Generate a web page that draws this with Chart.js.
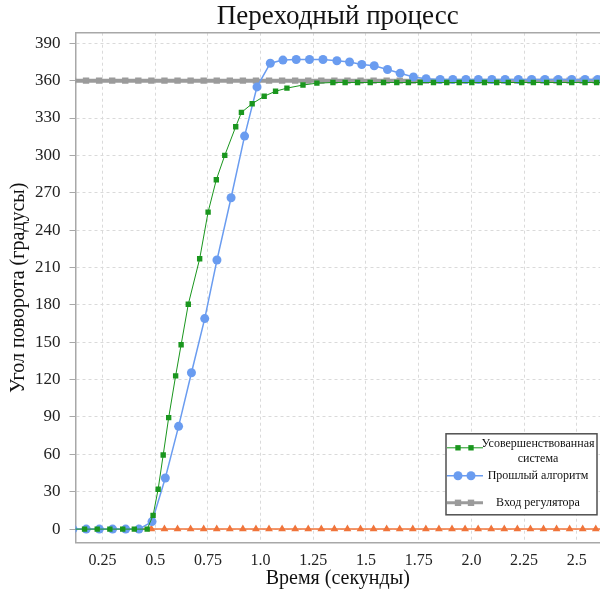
<!DOCTYPE html>
<html>
<head>
<meta charset="utf-8">
<script src="https://cdn.jsdelivr.net/npm/chart.js@4/dist/chart.umd.min.js"></script>
<style>
  html, body { margin: 0; padding: 0; background: #fff; overflow: hidden; }
</style>
</head>
<body>
<canvas id="chart" width="600" height="592"></canvas>
<script>
"use strict";

const serif = "'Liberation Serif', 'Times New Roman', serif";

// time, s
const greenTime = [0.105, 0.165, 0.225, 0.285, 0.346, 0.401, 0.462, 0.49, 0.514, 0.538,
  0.564, 0.597, 0.623, 0.657, 0.711, 0.751, 0.79, 0.83, 0.882, 0.909, 0.96, 1.017, 1.071,
  1.125, 1.201, 1.267, 1.343, 1.401, 1.46, 1.52, 1.583, 1.646, 1.701, 1.757, 1.82, 1.883,
  1.942, 2.002, 2.062, 2.12, 2.175, 2.239, 2.294, 2.357, 2.417, 2.476, 2.539, 2.594, 2.654];
const greenAngle = [0, 0, 0, 0, 0, 0, 0, 11, 32, 59.5,
  89.5, 123, 148, 180.5, 217, 254.5, 280.5, 300, 323, 334.5, 341.5, 347.5, 351.5,
  354, 356.5, 358, 358.5, 358.5, 358.5, 358.5, 358.5, 358.5, 358.5, 358.5, 358.5, 358.5,
  358.5, 358.5, 358.5, 358.5, 358.5, 358.5, 358.5, 358.5, 358.5, 358.5, 358.5, 358.5, 358.5];

const blueTime = [0.11, 0.173, 0.235, 0.298, 0.36, 0.423, 0.485, 0.548, 0.611, 0.672,
  0.735, 0.793, 0.86, 0.924, 0.983, 1.046, 1.106, 1.169, 1.232, 1.296, 1.362, 1.422,
  1.48, 1.539, 1.602, 1.662, 1.725, 1.785, 1.852, 1.912, 1.974, 2.033, 2.097, 2.16,
  2.223, 2.286, 2.349, 2.412, 2.476, 2.539, 2.599, 2.662];
const blueAngle = [0, 0, 0, 0, 0, 0, 6, 41, 82.5, 125.5,
  169, 216, 266, 315.5, 355, 374, 376.5, 377, 377, 377, 376, 375,
  373, 372, 369, 366, 363, 361.5, 361, 361, 361, 361, 361, 361,
  361, 361, 361, 361, 361, 361, 361, 361];

const inputTime = [0.11, 0.172, 0.234, 0.296, 0.358, 0.42, 0.482, 0.544, 0.606, 0.668,
  0.73, 0.792, 0.854, 0.916, 0.978, 1.04, 1.102, 1.164, 1.226, 1.288, 1.35, 1.412,
  1.474, 1.536, 1.598, 1.66, 1.722, 1.784, 1.846, 1.908, 1.97, 2.032, 2.094, 2.156,
  2.218, 2.28, 2.342, 2.404, 2.466, 2.528, 2.59, 2.652];
const inputAngle = [360, 360, 360, 360, 360, 360, 360, 360, 360, 360,
  360, 360, 360, 360, 360, 360, 360, 360, 360, 360, 360, 360,
  360, 360, 360, 360, 360, 360, 360, 360, 360, 360, 360, 360,
  360, 360, 360, 360, 360, 360, 360, 360];

const orangeTime = [0.42, 0.482, 0.544, 0.606, 0.668, 0.73, 0.792, 0.854, 0.916, 0.978,
  1.04, 1.102, 1.164, 1.226, 1.288, 1.35, 1.412, 1.474, 1.536, 1.598, 1.66, 1.722,
  1.784, 1.846, 1.908, 1.97, 2.032, 2.094, 2.156, 2.218, 2.28, 2.342, 2.404, 2.466,
  2.528, 2.59, 2.652];
const orangeAngle = [0, 0, 0, 0, 0, 0, 0, 0, 0, 0,
  0, 0, 0, 0, 0, 0, 0, 0, 0, 0, 0, 0,
  0, 0, 0, 0, 0, 0, 0, 0, 0, 0, 0, 0,
  0, 0, 0];

const seriesNames = ["Усовершенствованная система", "Прошлый алгоритм", "Вход регулятора", ""];
const legendLines = [["Усовершенствованная", "система"], ["Прошлый алгоритм"], ["Вход регулятора"]];

const toPoints = (xs, ys) => xs.map((x, i) => ({ x: x, y: ys[i] }));

const boxLegend = {
  id: "boxLegend",
  afterDraw(chart) {
    const ctx = chart.ctx;
    const area = chart.chartArea;
    const w = 151;
    const h = 81;
    const left = area.right - w - 3;
    const top = area.bottom - h - 28;
    const rowY = [14, 42, 69];
    ctx.save();
    ctx.fillStyle = "#fff";
    ctx.fillRect(left, top, w, h);
    ctx.strokeStyle = "#505050";
    ctx.lineWidth = 1.5;
    ctx.strokeRect(left, top, w, h);
    ctx.font = "12px " + serif;
    ctx.textAlign = "center";
    ctx.textBaseline = "middle";
    legendLines.forEach((lines, i) => {
      const ds = chart.data.datasets[i];
      const y = top + rowY[i];
      ctx.strokeStyle = ds.borderColor;
      ctx.lineWidth = Math.min(ds.borderWidth, 3);
      ctx.beginPath();
      ctx.moveTo(left + 1, y);
      ctx.lineTo(left + 37, y);
      ctx.stroke();
      ctx.fillStyle = ds.pointBackgroundColor;
      [left + 12, left + 25].forEach((x) => {
        Chart.helpers.drawPoint(ctx, { pointStyle: ds.pointStyle, radius: ds.pointRadius, borderWidth: 0, rotation: 0 }, x, y);
      });
      ctx.fillStyle = "#111";
      if (lines.length === 2) {
        ctx.fillText(lines[0], left + 92, y - 4);
        ctx.fillText(lines[1], left + 92, y + 11);
      } else {
        ctx.fillText(lines[0], left + 92, y);
      }
    });
    ctx.restore();
  },
};

const ctx = document.getElementById("chart").getContext("2d");
new Chart(ctx, {
  type: "line",
  data: {
    datasets: [
      {
        label: seriesNames[0],
        data: toPoints(greenTime, greenAngle),
        borderColor: "#1a961e",
        backgroundColor: "#1a961e",
        pointBackgroundColor: "#1a961e",
        borderWidth: 1,
        pointStyle: "rect",
        pointRadius: 3.8,
        pointBorderWidth: 0,
        clip: 0,
      },
      {
        label: seriesNames[1],
        data: toPoints(blueTime, blueAngle),
        borderColor: "#6a9cf0",
        backgroundColor: "#6a9cf0",
        pointBackgroundColor: "#6a9cf0",
        borderWidth: 1.5,
        pointStyle: "circle",
        pointRadius: 4.5,
        pointBorderWidth: 0,
        clip: 0,
      },
      {
        label: seriesNames[2],
        data: toPoints(inputTime, inputAngle),
        borderColor: "#9b9b9b",
        backgroundColor: "#9b9b9b",
        pointBackgroundColor: "#9b9b9b",
        borderWidth: 4,
        pointStyle: "rect",
        pointRadius: 4.5,
        pointBorderWidth: 0,
        clip: 0,
      },
      {
        label: seriesNames[3],
        data: toPoints(orangeTime, orangeAngle),
        borderColor: "#f0743a",
        backgroundColor: "#f0743a",
        pointBackgroundColor: "#f0743a",
        borderWidth: 1.5,
        pointStyle: "triangle",
        pointRadius: 4.5,
        pointBorderWidth: 0,
        clip: 0,
      },
    ],
  },
  options: {
    responsive: false,
    animation: false,
    layout: { autoPadding: false, padding: 0 },
    plugins: {
      legend: { display: false },
      tooltip: { enabled: false },
      title: {
        display: true,
        fullSize: false,
        text: "Переходный процесс",
        color: "#111",
        font: { family: serif, size: 27, weight: "normal", lineHeight: 1.1 },
        padding: { top: 2, bottom: 1 },
      },
    },
    scales: {
      x: {
        type: "linear",
        min: 0.122,
        max: 2.61,
        border: { color: "#a8a8a8", width: 1.5, dash: [3, 3] },
        grid: { color: "#dadada", drawTicks: false, tickLength: 0 },
        ticks: {
          stepSize: 0.25,
          includeBounds: false,
          padding: 8,
          color: "#222",
          font: { family: serif, size: 16 },
          callback: (v) => {
            const r = Math.round(v * 100) / 100;
            return Number.isInteger(r) ? r.toFixed(1) : String(r);
          },
        },
        title: {
          display: true,
          text: "Время (секунды)",
          color: "#111",
          font: { family: serif, size: 20, lineHeight: 1.1 },
          padding: { top: -10, bottom: 2 },
        },
      },
      xTop: {
        type: "linear",
        position: "top",
        min: 0.122,
        max: 2.61,
        border: { color: "#a8a8a8", width: 1.5 },
        grid: { color: "transparent", drawTicks: false, tickLength: 0 },
        ticks: { display: false },
      },
      y: {
        min: -11,
        max: 398.5,
        border: { color: "#a8a8a8", width: 1.5, dash: [3, 3] },
        grid: { color: "#dadada", tickLength: 6, tickColor: "#a8a8a8", tickBorderDash: [] },
        ticks: {
          stepSize: 30,
          includeBounds: false,
          padding: 9,
          color: "#222",
          font: { family: serif, size: 17 },
        },
        title: {
          display: true,
          text: "Угол поворота (градусы)",
          color: "#111",
          font: { family: serif, size: 20 },
          padding: { top: 7, bottom: -5 },
        },
      },
    },
  },
  plugins: [boxLegend],
});
</script>
</body>
</html>
